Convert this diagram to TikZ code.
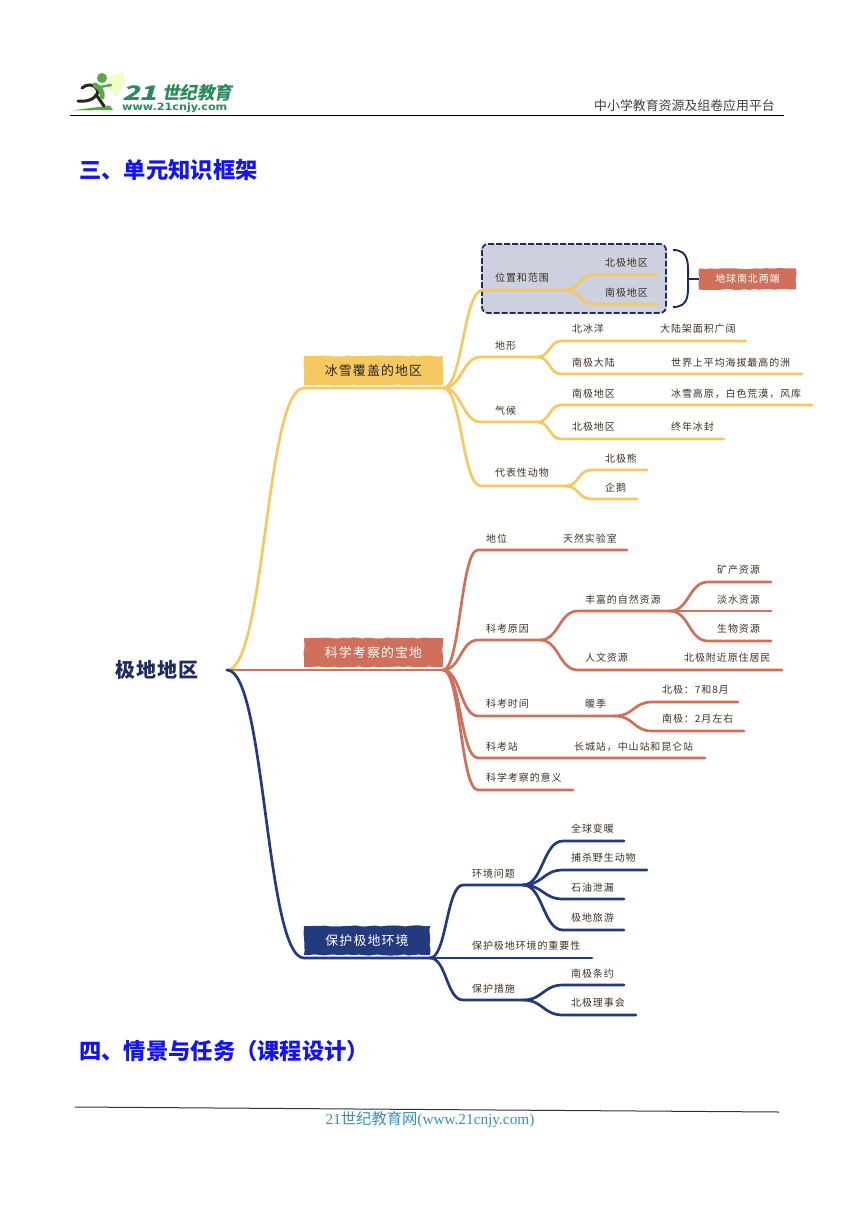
\documentclass[tikz,border=0pt]{standalone}
\usepackage{fontspec}
\usepackage{xcolor}
\usetikzlibrary{calc,decorations.pathmorphing}
\setmainfont{Liberation Serif}
\newfontfamily\cjk[LetterSpace=9]{Noto Sans CJK SC}
\newfontfamily\cjkroot[LetterSpace=5]{Noto Sans CJK SC}
\newfontfamily\cjkplain{Noto Sans CJK SC}
\newfontfamily\cjkslant[FakeSlant=0.2]{Noto Sans CJK SC}
\newfontfamily\logosans{DejaVu Sans}
\definecolor{ylw}{HTML}{F5C95F}
\definecolor{rdd}{HTML}{D0705A}
\definecolor{blu}{HTML}{233A7F}
\definecolor{navy}{HTML}{1D2B5E}
\definecolor{greybox}{HTML}{CDD0DF}
\definecolor{inkbrown}{HTML}{3E3022}
\definecolor{logogreen}{HTML}{2A8A5C}
\definecolor{foot}{HTML}{3A8FB7}
\definecolor{runner}{HTML}{5BA84A}

\begin{document}
\begin{tikzpicture}[
            x=1pt, y=-1pt,
            mm/.style = {
                to path={let \p1=(\tikztostart), \p2=(\tikztotarget) in
                    .. controls ({.5*(\x1+\x2)},\y1) and ({.5*(\x1+\x2)},\y2) .. (\p2)}
            },
            branch/.style = {
                line width=2.7pt, line cap=round, line join=round
            },
            lbl/.style = {
                anchor=west, inner sep=0pt, text=inkbrown,
                font=\fontsize{10}{12}\cjk
            },
            mainbox/.style = {
                inner sep=0pt, minimum height=29pt,
                decorate, decoration={random steps, segment length=5pt, amplitude=.6pt},
                font=\fontsize{12.9}{15}\cjk
            },
            heading/.style = {
                anchor=west, inner sep=0pt, text={rgb,255:red,20;green,20;blue,240},
                font=\fontsize{22.3}{26}\bfseries\cjkplain
            }
            ]

            \useasboundingbox (0,0) rectangle (860,1216);

            \coordinate (rt) at (227,670);

            % page header
            \draw[line width=1pt] (70,115) -- (784,115);
            \node[anchor=east, inner sep=0pt, font=\fontsize{12.9}{15}\cjkplain, text=black!75] (plat) at (775,106) {中小学教育资源及组卷应用平台};
            \fill[runner] (72,110.5) -- (113,110) -- (110,105.5) -- (90,108) -- cycle;
            \fill[green!30!yellow!22] (107,77) -- (123,72) -- (125,82) -- (117,97) -- (109,90) -- cycle;
            \draw[line width=3pt, black!85, line cap=round] (82,88) .. controls (92,80) and (100,90) .. (97,94) .. controls (94,100) and (85,102) .. (78,101);
            \draw[line width=3pt, black!85, line cap=round] (97,96) -- (104,106);
            \draw[line width=5pt, runner, line cap=round] (95,85) .. controls (100,88) and (103,92) .. (102,97);
            \draw[line width=2.5pt, runner, line cap=round] (100,87) -- (111,85);
            \fill[runner] (102,78) circle (5);
            \node[anchor=west, inner sep=0pt, text=logogreen, font=\fontsize{20}{22}\bfseries\cjkslant] (lga) at (122,93) {\scalebox{1.45}[1]{21}};
            \node[anchor=west, inner sep=0pt, text=logogreen, font=\fontsize{17.5}{20}\bfseries\cjkslant] (lgb) at (162,93) {世纪教育};
            \node[anchor=west, inner sep=0pt, text=logogreen, font=\fontsize{10}{12}\bfseries\logosans] (lgc) at (122,108) {\scalebox{1.12}[1]{www.21cnjy.com}};

            \node[heading] (hthree) at (79,170) {三、单元知识框架};
            \node[heading] (hfour) at (79,1051) {四、情景与任务（课程设计）};

            % page footer
            \draw[line width=1pt, black!80] (75,1107) -- (779,1112);
            \node[inner sep=0pt, text=foot, font=\fontsize{15.3}{18}\selectfont] (ftr) at (430,1120) {21{\cjkplain 世纪教育网}(www.21cnjy.com)};

            % grey frame and bracket
            \draw[navy, fill=greybox, line width=1.7pt, rounded corners=6pt, dash pattern=on 6pt off 2pt] (482,244) rectangle (666,313);
            \coordinate (brk) at (688,279);
            \node[mainbox, fill=rdd, text=white, minimum width=97pt, minimum height=21pt, font=\fontsize{10}{12}\cjk] (nt) at (747.5,279) {地球南北两端};
            \draw[navy, line width=1.9pt] (673,250) .. controls (690,250) and (688,265) .. (brk) .. controls (688,293) and (690,307) .. (673,307);
            \draw[navy, line width=1.2pt] (brk) -- (nt.west);

            \node[inner sep=0pt, text=navy, font=\fontsize{20}{23}\bfseries\cjkroot] (root) at (157,670) {极地地区};

            \foreach \nm/\c/\tc/\xa/\xb/\yl/\t in {A/ylw/black!85/304/443/388/冰雪覆盖的地区, B/rdd/white/304/443/670/科学考察的宝地, C/blu/white/304/430/958/保护极地环境} {
                \node[mainbox, fill=\c, text=\tc, minimum width={(\xb-\xa)*1pt}] (\nm) at ({(\xa+\xb)/2},{\yl-17.5}) {\t\hspace{5pt}};
                \coordinate (\nm-s) at (\xa,\yl);
                \coordinate (\nm-e) at (\xb,\yl);
                \draw[branch, \c] (rt) to[mm] (\nm-s) -- (\nm-e);
            }

            \foreach \c/\nm/\h/\xa/\xb/\yl/\tx/\ty/\t in {
                ylw/wz/A-e/483/566/290/495/278/位置和范围,
                ylw/bj/wz-e/593/658/275/605/263/北极地区,
                ylw/nj/wz-e/593/658/304/605/293/南极地区,
                ylw/dx/A-e/481/538/357/495/346/地形,
                ylw/bb/dx-e/561/746/341/572/329/北冰洋,
                ylw/nd/dx-e/561/802/374/572/363/南极大陆,
                ylw/qh/A-e/481/538/422/495/411/气候,
                ylw/nq/qh-e/561/812/405/572/394/南极地区,
                ylw/bq/qh-e/561/724/439/572/427/北极地区,
                ylw/dw/A-e/481/566/486/495/473/代表性动物,
                ylw/bx/dw-e/591/647/470/605/459/北极熊,
                ylw/qe/dw-e/591/637/499/605/488/企鹅,
                rdd/dy/B-e/478/627/550/486/539/地位,
                rdd/yy/B-e/478/540/640/486/629/科考原因,
                rdd/zr/yy-e/578/670/611/585/600/丰富的自然资源,
                rdd/kc/zr-e/708/771/582/717/570/矿产资源,
                rdd/ds/zr-e/708/771/611/717/600/淡水资源,
                rdd/sw/zr-e/708/771/641/717/629/生物资源,
                rdd/rw/yy-e/578/782/670/585/658/人文资源,
                rdd/sj/B-e/478/615/716/486/704/科考时间,
                rdd/bt/sj-e/652/738/702/662/690/北极：7和8月,
                rdd/nt2/sj-e/652/744/731/662/719/南极：2月左右,
                rdd/kz/B-e/478/705/758/486/747/科考站,
                rdd/yi/B-e/478/573/790/486/778/科学考察的意义,
                blu/hj/C-e/463/523/885/472/874/环境问题,
                blu/qq/hj-e/563/624/841/571/829/全球变暖,
                blu/bs/hj-e/563/647/870/571/858/捕杀野生动物,
                blu/sy/hj-e/563/624/899/571/888/石油泄漏,
                blu/ly/hj-e/563/624/930/571/918/极地旅游,
                blu/zy/C-e/463/592/958/472/946/保护极地环境的重要性,
                blu/cs/C-e/463/523/1000/472/989/保护措施,
                blu/nt3/cs-e/563/624/985/571/974/南极条约,
                blu/bl/cs-e/563/636/1015/571/1003/北极理事会} {
                \coordinate (\nm-s) at (\xa,\yl);
                \coordinate (\nm-e) at (\xb,\yl);
                \draw[branch, \c] (\h) to[mm] (\nm-s) -- (\nm-e);
                \node[lbl] (\nm) at (\tx,\ty) {\t};
            }

            \foreach \nm/\tx/\ty/\t in {
                dl/660/329/大陆架面积广阔,
                sj2/671/363/世界上平均海拔最高的洲,
                by/671/394/{冰雪高原，白色荒漠，风库},
                zn/671/427/终年冰封,
                tr/563/539/天然实验室,
                fj/684/658/北极附近原住居民,
                nj2/585/704/暖季,
                cc/574/747/{长城站，中山站和昆仑站}} {
                \node[lbl] (\nm) at (\tx,\ty) {\t};
            }

        \end{tikzpicture}
\end{document}
